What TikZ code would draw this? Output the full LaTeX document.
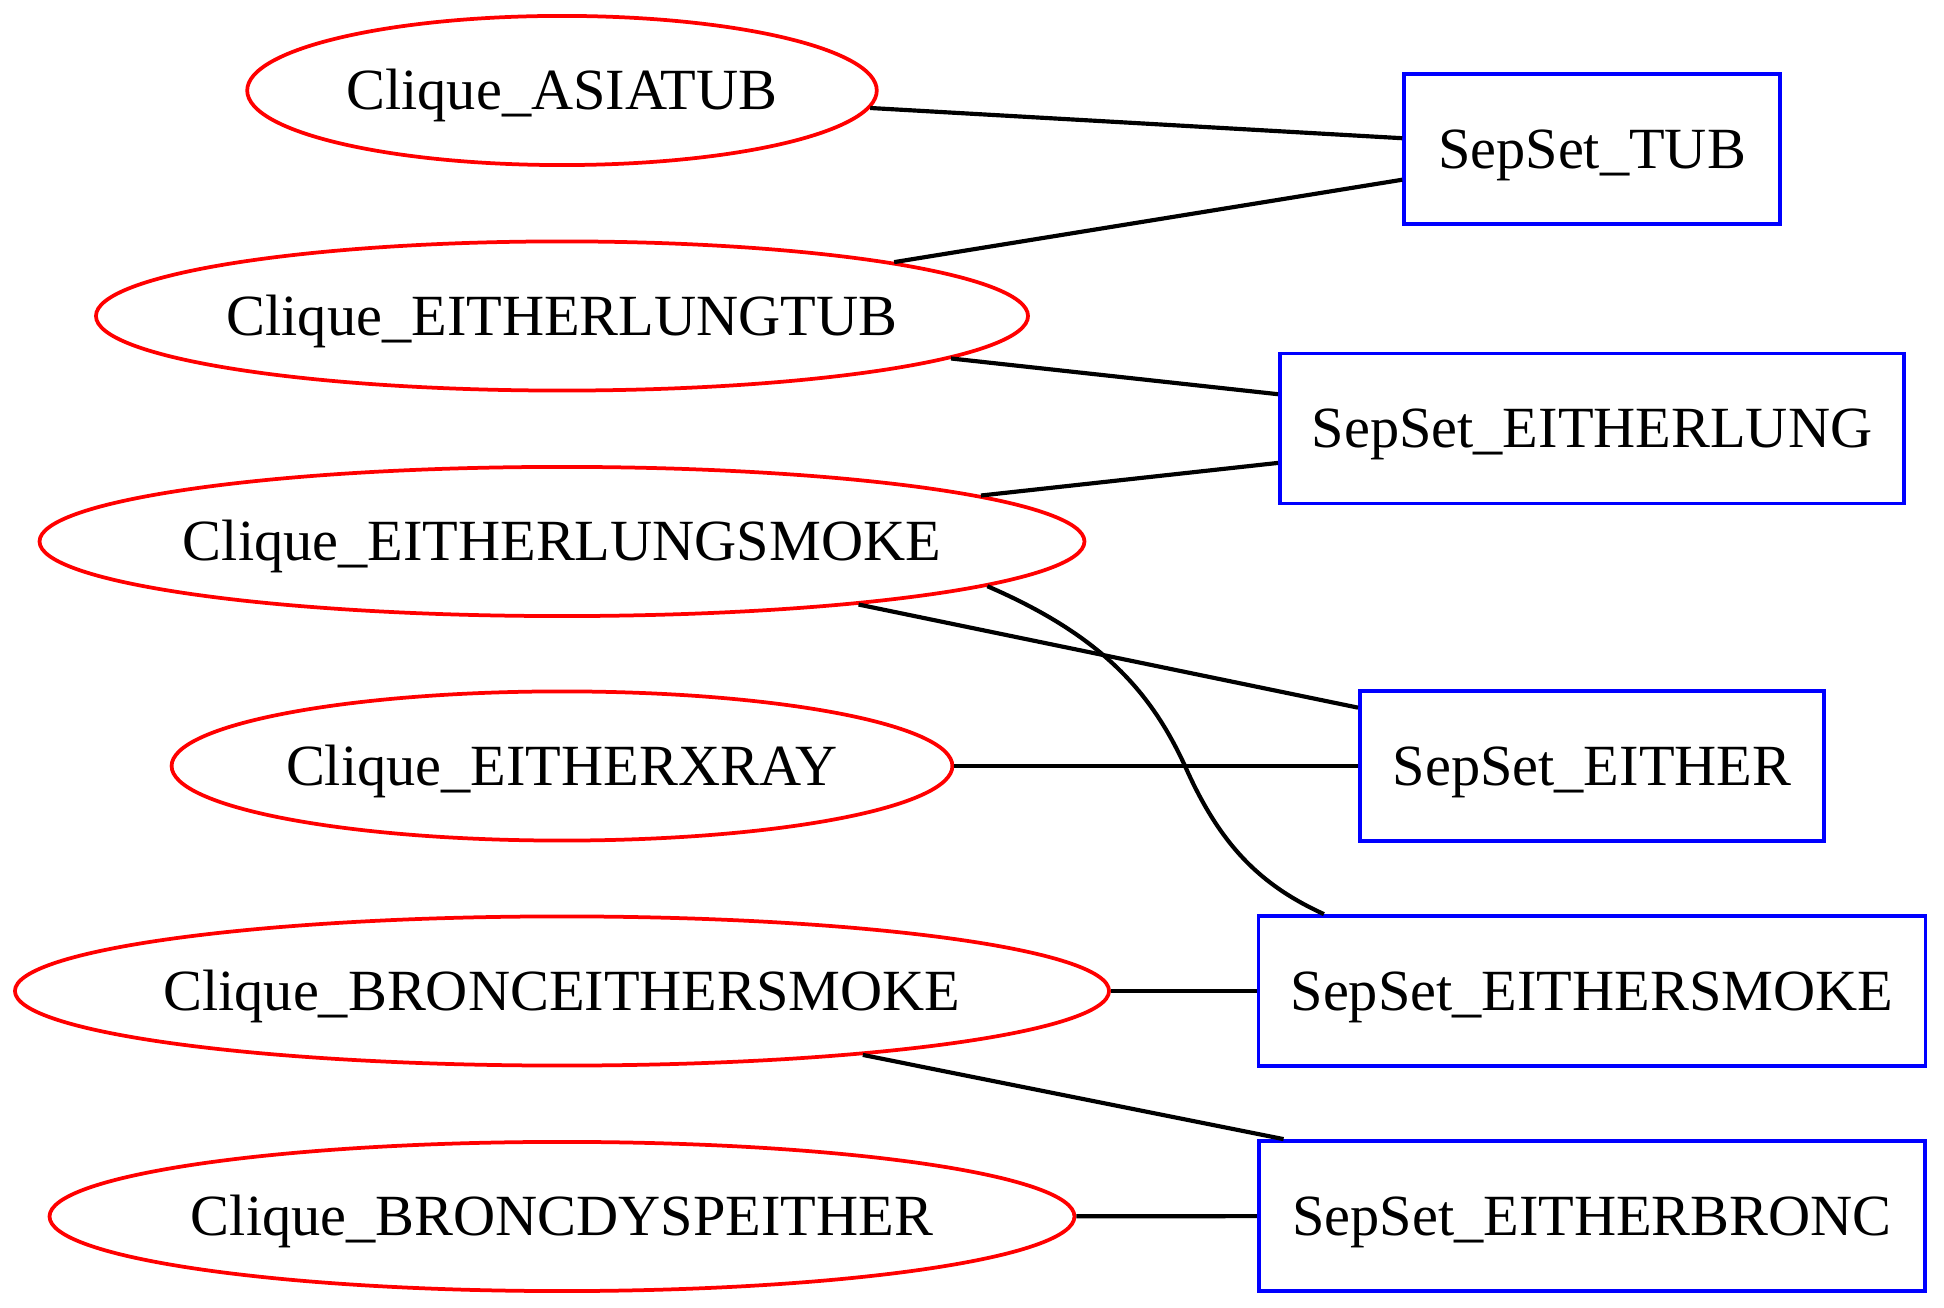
\documentclass[tikz,border=0pt]{standalone}
\usepackage{fontspec}
\setmainfont{Liberation Serif}
\usetikzlibrary{shapes.geometric}
\begin{document}
\begin{tikzpicture}[x=0.24pt,y=-0.24pt,
  every node/.style={font=\fontsize{14pt}{16pt}\selectfont, inner sep=0pt, text height=9.3pt, text depth=0pt},
  clique/.style={ellipse, draw=red, line width=0.9pt, minimum height=35.8pt},
  sepset/.style={rectangle, draw=blue, line width=0.9pt, minimum height=36pt},
  conn/.style={draw=black, line width=1pt}]
\useasboundingbox (0,0) rectangle (1944,1308);
\node[clique, minimum width=151.1pt] (c1) at (562,90.5) {\makebox[0pt]{Clique\_ASIATUB}};
\node[clique, minimum width=223.7pt] (c2) at (562,316) {\makebox[0pt]{Clique\_EITHERLUNGTUB}};
\node[clique, minimum width=250.8pt] (c3) at (562,541.5) {\makebox[0pt]{Clique\_EITHERLUNGSMOKE}};
\node[clique, minimum width=187.4pt] (c4) at (562,766) {\makebox[0pt]{Clique\_EITHERXRAY}};
\node[clique, minimum width=262.6pt] (c5) at (562,991) {\makebox[0pt]{Clique\_BRONCEITHERSMOKE}};
\node[clique, minimum width=246pt] (c6) at (562,1216.5) {\makebox[0pt]{Clique\_BRONCDYSPEITHER}};
\node[sepset, minimum width=90.2pt] (s1) at (1592,149) {SepSet\_TUB};
\node[sepset, minimum width=149.8pt] (s2) at (1592,428.5) {SepSet\_EITHERLUNG};
\node[sepset, minimum width=111.4pt] (s3) at (1592,766) {SepSet\_EITHER};
\node[sepset, minimum width=160.1pt] (s4) at (1592,991) {SepSet\_EITHERSMOKE};
\node[sepset, minimum width=160pt] (s5) at (1592,1216) {SepSet\_EITHERBRONC};
\draw[conn] (c1) -- (s1);
\draw[conn] (c2) -- (s1);
\draw[conn] (c2) -- (s2);
\draw[conn] (c3) -- (s2);
\draw[conn] (c3.-12.3) -- (s3.166.4);
\draw[conn] (c4) -- (s3);
\draw[conn] (c5) -- (s4);
\draw[conn] (c5.-12.4) -- (s5.166.8);
\draw[conn] (c6) -- (s5);
\draw[conn] (c3.-6.6) .. controls (1100,635) and (1150,690) .. (1185,766)
  .. controls (1220,845) and (1260,885) .. (s4.164.3);
\end{tikzpicture}
\end{document}
